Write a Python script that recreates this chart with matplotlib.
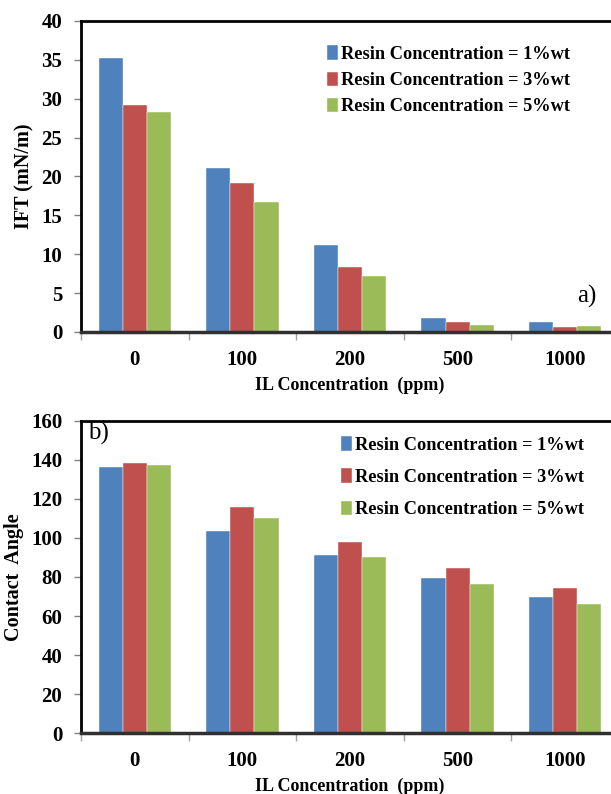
import numpy as np
import matplotlib
matplotlib.use("Agg")
import matplotlib.pyplot as plt

categories = ["0", "100", "200", "500", "1000"]
series_names = ["Resin Concentration = 1%wt",
                "Resin Concentration = 3%wt",
                "Resin Concentration = 5%wt"]
colors = ["#4F81BD", "#C0504D", "#9BBB59"]

ift_1 = [35.3, 21.05, 11.15, 1.8, 1.25]
ift_3 = [29.2, 19.2, 8.4, 1.25, 0.7]
ift_5 = [28.3, 16.7, 7.2, 0.9, 0.8]

ca_1 = [136.4, 103.6, 91.5, 79.3, 69.7]
ca_3 = [138.6, 116.1, 97.8, 84.5, 74.5]
ca_5 = [137.2, 110.1, 90.3, 76.6, 66.3]

plt.rcParams['font.family'] = ['Liberation Serif', 'DejaVu Serif']


def draw(ax, data, ylim, ystep, ylabel, tag, tagpos, legpos, legspacing):
    x = np.arange(len(categories))
    w = 0.224
    for i, vals in enumerate(data):
        ax.bar(x + (i - 1) * w, vals, w, color=colors[i], label=series_names[i],
               edgecolor="white", linewidth=0.3, zorder=2)
    ax.set_xlim(-0.5, len(categories) - 0.5)
    ax.set_ylim(*ylim)
    ax.set_yticks(np.arange(ylim[0], ylim[1] + 0.1, ystep))
    ax.set_xticks(x)
    ax.set_xticklabels(categories)
    ax.set_xticks(np.arange(-0.5, len(categories), 1), minor=True)
    ax.tick_params(axis="x", which="major", length=0, pad=13, labelsize=15)
    ax.tick_params(axis="x", which="minor", length=6, color="#a0a0a0", width=1)
    ax.tick_params(axis="y", length=5, color="#808080", width=1, labelsize=15, pad=8.5)
    for lab in ax.get_xticklabels() + ax.get_yticklabels():
        lab.set_fontweight("bold")
    for s in ["top", "left", "right"]:
        ax.spines[s].set_linewidth(2)
        ax.spines[s].set_color("black")
    ax.spines["bottom"].set_linewidth(2.5)
    ax.spines["bottom"].set_color("#303030")
    ax.set_ylabel(ylabel, fontsize=14.5, fontweight="bold", labelpad=5)
    ax.set_xlabel("IL Concentration  (ppm)", fontsize=13, fontweight="bold", labelpad=5)
    ax.text(tagpos[0], tagpos[1], tag, transform=ax.transAxes, fontsize=18,
            ha="left", va="center")
    ax.legend(loc="upper left", bbox_to_anchor=legpos, frameon=False,
              prop={"weight": "bold", "size": 13.25}, handlelength=0.6,
              handleheight=0.85, handletextpad=0.15, labelspacing=legspacing,
              borderaxespad=0)


fig = plt.figure(figsize=(6.11, 7.94), dpi=100)
ax1 = fig.add_axes([0.1326, 0.5819, 0.8805, 0.3917])
ax2 = fig.add_axes([0.1326, 0.0768, 0.8805, 0.3930])

draw(ax1, [ift_1, ift_3, ift_5], (0, 40), 5, "IFT (mN/m)", "a)",
     (0.923, 0.113), (0.443, 0.945), 0.46)
draw(ax2, [ca_1, ca_3, ca_5], (0, 160), 20, "Contact  Angle", "b)",
     (0.013, 0.96), (0.470, 0.975), 0.79)

fig.savefig("out.png", dpi=100)
